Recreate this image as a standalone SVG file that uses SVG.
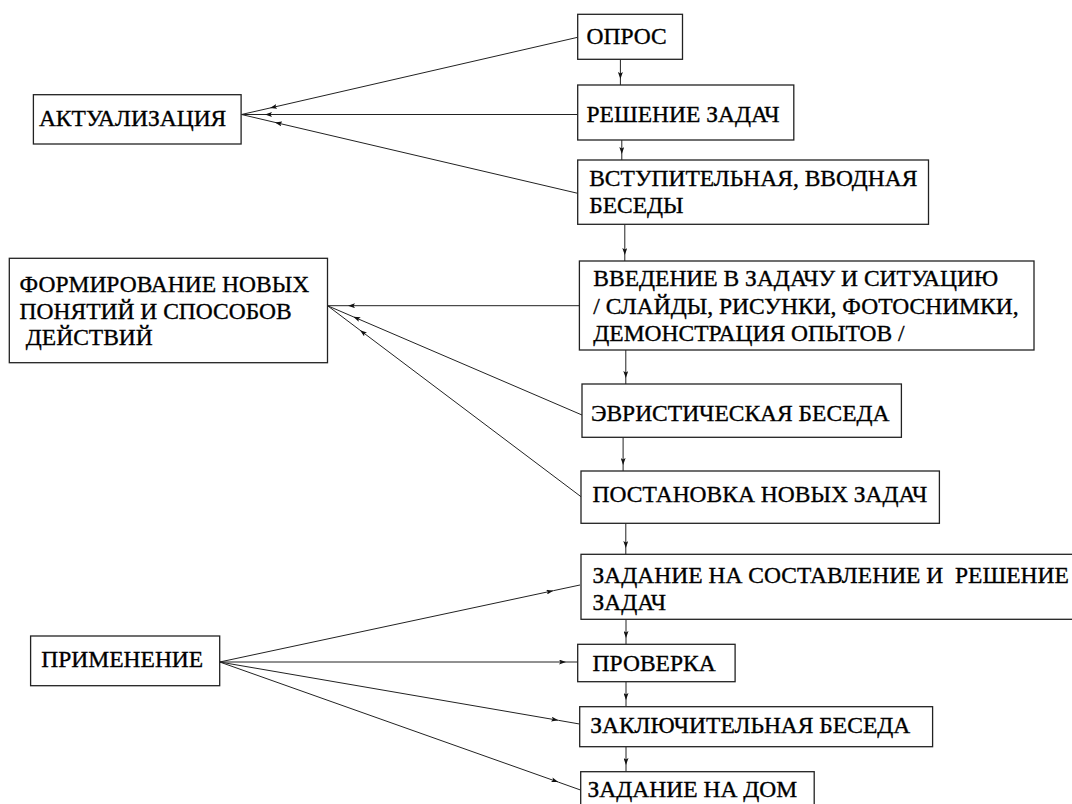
<svg xmlns="http://www.w3.org/2000/svg" width="1072" height="804" viewBox="0 0 1072 804">
<style>
.box{fill:#fff;stroke:#222;stroke-width:1.3}
.t{font-family:"Liberation Serif",Tinos,"Times New Roman",serif;font-size:23.5px;fill:#000;stroke:#000;stroke-width:0.35}
.c{fill:none;stroke:#222;stroke-width:1}
</style>
<defs>
<marker id="ah" viewBox="0 0 7 5" refX="7" refY="2.5" markerWidth="7" markerHeight="5" markerUnits="userSpaceOnUse" orient="auto">
<path d="M0,0 L7,2.5 L0,5 L1.5,2.5 z" fill="#111"/>
</marker>
</defs>
<rect width="1072" height="804" fill="#fff"/>
<g id="connectors">
<polyline class="c" points="577.7,37.3 270,108 241.5,114.5" marker-mid="url(#ah)"/>
<polyline class="c" points="577.7,114.5 265,114.5 241.5,114.5" marker-mid="url(#ah)"/>
<polyline class="c" points="577.7,193.3 275,122.4 241.5,114.5" marker-mid="url(#ah)"/>
<polyline class="c" points="579.4,305.7 348,305.7 327.5,305.7" marker-mid="url(#ah)"/>
<polyline class="c" points="582,415 353.3,316.8 327.5,305.7" marker-mid="url(#ah)"/>
<polyline class="c" points="581,496.7 360,330.2 327.5,305.7" marker-mid="url(#ah)"/>
<polyline class="c" points="219.7,662 553.3,590.7 580,585" marker-mid="url(#ah)"/>
<polyline class="c" points="219.7,662 566,662 577.7,662" marker-mid="url(#ah)"/>
<polyline class="c" points="219.7,662 558.3,720.3 579.5,724" marker-mid="url(#ah)"/>
<polyline class="c" points="219.7,662 558.3,782.1 580.5,790" marker-mid="url(#ah)"/>
<polyline class="c" points="620.4,59.3 620.4,79 620.4,85" marker-mid="url(#ah)"/>
<polyline class="c" points="621.8,140 621.8,154 621.8,160" marker-mid="url(#ah)"/>
<polyline class="c" points="624.8,224.3 624.8,255 624.8,261" marker-mid="url(#ah)"/>
<polyline class="c" points="625.8,350 625.8,378 625.8,384" marker-mid="url(#ah)"/>
<polyline class="c" points="623.1,437.3 623.1,465 623.1,471" marker-mid="url(#ah)"/>
<polyline class="c" points="625.8,523.3 625.8,548 625.8,554.3" marker-mid="url(#ah)"/>
<polyline class="c" points="626,619.3 626,638 626,644.3" marker-mid="url(#ah)"/>
<polyline class="c" points="626,681.7 626,700 626,706.7" marker-mid="url(#ah)"/>
<polyline class="c" points="626,746.7 626,765 626,771.7" marker-mid="url(#ah)"/>
</g>
<g id="aktualizatsiya">
<rect class="box" x="33.4" y="94.7" width="207.7" height="49.3"/>
<text class="t" x="38.9" y="125.5">АКТУАЛИЗАЦИЯ</text>
</g>
<g id="formirovanie">
<rect class="box" x="9.3" y="258.3" width="318.2" height="104.4"/>
<text class="t" x="19.6" y="292">ФОРМИРОВАНИЕ НОВЫХ</text>
<text class="t" x="19.6" y="318.5">ПОНЯТИЙ И СПОСОБОВ</text>
<text class="t" x="25.8" y="345">ДЕЙСТВИЙ</text>
</g>
<g id="primenenie">
<rect class="box" x="30.6" y="636" width="189.1" height="49.7"/>
<text class="t" x="41.3" y="667">ПРИМЕНЕНИЕ</text>
</g>
<g id="opros">
<rect class="box" x="577.7" y="14.3" width="104.8" height="45"/>
<text class="t" x="586.5" y="43.5">ОПРОС</text>
</g>
<g id="reshenie">
<rect class="box" x="577.7" y="85" width="216.1" height="55"/>
<text class="t" x="586.5" y="122">РЕШЕНИЕ ЗАДАЧ</text>
</g>
<g id="vstupitelnaya">
<rect class="box" x="577.7" y="160" width="350.8" height="64.3"/>
<text class="t" x="589.2" y="186">ВСТУПИТЕЛЬНАЯ, ВВОДНАЯ</text>
<text class="t" x="589.2" y="212.5">БЕСЕДЫ</text>
</g>
<g id="vvedenie">
<rect class="box" x="579.4" y="261" width="454.6" height="89"/>
<text class="t" x="593.3" y="286">ВВЕДЕНИЕ В ЗАДАЧУ И СИТУАЦИЮ</text>
<text class="t" x="593.3" y="314">/ СЛАЙДЫ, РИСУНКИ, ФОТОСНИМКИ,</text>
<text class="t" x="593.3" y="340.5">ДЕМОНСТРАЦИЯ ОПЫТОВ /</text>
</g>
<g id="evristicheskaya">
<rect class="box" x="582" y="384" width="319.4" height="53.3"/>
<text class="t" x="590.9" y="420.5">ЭВРИСТИЧЕСКАЯ БЕСЕДА</text>
</g>
<g id="postanovka">
<rect class="box" x="581" y="471" width="358.4" height="52.3"/>
<text class="t" x="592.6" y="502">ПОСТАНОВКА НОВЫХ ЗАДАЧ</text>
</g>
<g id="zadanie-sostavlenie">
<rect class="box" x="581" y="554.3" width="500" height="65"/>
<text class="t" x="592.6" y="583" style="white-space:pre">ЗАДАНИЕ НА СОСТАВЛЕНИЕ И  РЕШЕНИЕ</text>
<text class="t" x="592.6" y="609.5">ЗАДАЧ</text>
</g>
<g id="proverka">
<rect class="box" x="577.7" y="644.3" width="157.4" height="37.4"/>
<text class="t" x="592.6" y="671">ПРОВЕРКА</text>
</g>
<g id="zaklyuchitelnaya">
<rect class="box" x="579.7" y="706.7" width="352.9" height="40"/>
<text class="t" x="590.2" y="733">ЗАКЛЮЧИТЕЛЬНАЯ БЕСЕДА</text>
</g>
<g id="zadanie-dom">
<rect class="box" x="580.7" y="771.7" width="233.5" height="45"/>
<text class="t" x="587.5" y="797">ЗАДАНИЕ НА ДОМ</text>
</g>
</svg>
